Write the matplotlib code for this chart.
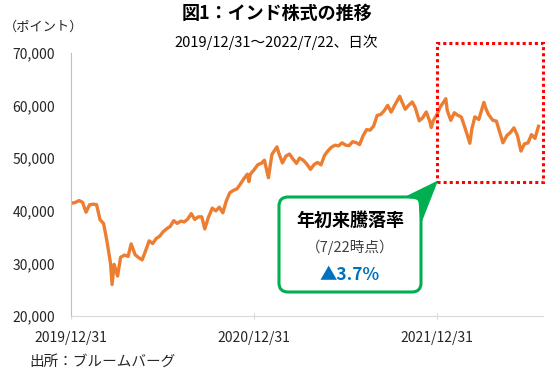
import matplotlib
matplotlib.use('Agg')
import matplotlib.pyplot as plt
import matplotlib.dates as mdates
import matplotlib.transforms as mtransforms
from matplotlib.patches import FancyBboxPatch, Polygon, Rectangle
from matplotlib.ticker import FuncFormatter
import pandas as pd

plt.rcParams['font.family'] = ['Noto Sans CJK JP', 'DejaVu Sans']

## weekly-ish closes (points)
dates = [
    '2019-12-31', '2020-01-03', '2020-01-10', '2020-01-17', '2020-01-24', '2020-01-31',
    '2020-02-07', '2020-02-14', '2020-02-21', '2020-02-28', '2020-03-06', '2020-03-13',
    '2020-03-20', '2020-03-23', '2020-03-27', '2020-04-03', '2020-04-09', '2020-04-17',
    '2020-04-24', '2020-04-30', '2020-05-08', '2020-05-15', '2020-05-22', '2020-05-29',
    '2020-06-05', '2020-06-12', '2020-06-19', '2020-06-26', '2020-07-03', '2020-07-10',
    '2020-07-17', '2020-07-24', '2020-07-31', '2020-08-07', '2020-08-14', '2020-08-21',
    '2020-08-28', '2020-09-04', '2020-09-11', '2020-09-18', '2020-09-24', '2020-10-01',
    '2020-10-09', '2020-10-16', '2020-10-23', '2020-10-30', '2020-11-06', '2020-11-13',
    '2020-11-20', '2020-11-27', '2020-12-04', '2020-12-11', '2020-12-18', '2020-12-21',
    '2020-12-24', '2020-12-31',
    '2021-01-08', '2021-01-15', '2021-01-21', '2021-01-29', '2021-02-05', '2021-02-15',
    '2021-02-19', '2021-02-26', '2021-03-05', '2021-03-12', '2021-03-19', '2021-03-26',
    '2021-04-01', '2021-04-09', '2021-04-16', '2021-04-23', '2021-04-30', '2021-05-07',
    '2021-05-14', '2021-05-21', '2021-05-28', '2021-06-04', '2021-06-11', '2021-06-18',
    '2021-06-25', '2021-07-02', '2021-07-09', '2021-07-16', '2021-07-23', '2021-07-30',
    '2021-08-06', '2021-08-13', '2021-08-20', '2021-08-27', '2021-09-03', '2021-09-10',
    '2021-09-17', '2021-09-24', '2021-10-01', '2021-10-08', '2021-10-18', '2021-10-22',
    '2021-10-29', '2021-11-05', '2021-11-12', '2021-11-18', '2021-11-26', '2021-12-03',
    '2021-12-10', '2021-12-17', '2021-12-20', '2021-12-24', '2021-12-31',
    '2022-01-07', '2022-01-18', '2022-01-21', '2022-01-28', '2022-02-04', '2022-02-11',
    '2022-02-18', '2022-02-25', '2022-03-07', '2022-03-11', '2022-03-17', '2022-03-25',
    '2022-04-04', '2022-04-08', '2022-04-13', '2022-04-22', '2022-04-29', '2022-05-06',
    '2022-05-12', '2022-05-20', '2022-05-27', '2022-06-03', '2022-06-10', '2022-06-17',
    '2022-06-24', '2022-07-01', '2022-07-08', '2022-07-15', '2022-07-22',
]
values = [
    41254, 41464, 41600, 41945, 41613, 39736,
    41141, 41257, 41170, 38297, 37577, 34103,
    29916, 25981, 29816, 27591, 31160, 31589,
    31327, 33718, 31643, 31098, 30672, 32424,
    34287, 33781, 34731, 35171, 36021, 36594,
    37020, 38129, 37607, 38040, 37877, 38434,
    39467, 38357, 38855, 38845, 36553, 38697,
    40509, 39983, 40686, 39614, 41893, 43443,
    43882, 44150, 45080, 46099, 46961, 45554,
    46974, 47751,
    48782, 49035, 49625, 46286, 50732, 52154,
    50890, 49100, 50405, 50792, 49858, 49008,
    50030, 49591, 48832, 47878, 48782, 49206,
    48732, 50540, 51423, 52100, 52474, 52344,
    52925, 52485, 52386, 53140, 52976, 52587,
    54278, 55437, 55329, 56124, 58130, 58305,
    59015, 60048, 58765, 60059, 61766, 60821,
    59307, 60067, 60687, 59636, 57107, 57696,
    58787, 57011, 55822, 57124, 58254,
    59745, 61309, 59037, 57200, 58645, 58153,
    57833, 55858, 52843, 55550, 57864, 57362,
    60611, 59447, 58339, 57197, 57061, 54836,
    52930, 54326, 54885, 55769, 54303, 51360,
    52728, 52908, 54482, 53760, 56072,
]

xtick_dates = ['2019-12-31', '2020-12-31', '2021-12-31']
xtick_labels = ['2019/12/31', '2020/12/31', '2021/12/31']
yticks = [20000, 30000, 40000, 50000, 60000, 70000]

title = '図1：インド株式の推移'
subtitle = '2019/12/31～2022/7/22、日次'
unit = '（ポイント）'
source = '出所：ブルームバーグ'
box_lines = ['年初来騰落率', '（7/22時点）', '▲3.7%']
highlight_start = '2021-12-31'
highlight_floor = 45500

W, H = 556, 377
fig = plt.figure(figsize=(W / 100, H / 100), dpi=100)
ax = fig.add_axes([70.5 / W, 1 - 316 / H, (543 - 70.5) / W, (316 - 53) / H])

x = pd.to_datetime(dates)
ax.plot(x, values, color='#ED7D31', lw=2.4, solid_joinstyle='round')

ax.set_ylim(20000, 70000)
ax.set_xlim(pd.Timestamp('2019-12-31'), pd.Timestamp('2022-07-31'))
ax.set_yticks(yticks)
ax.yaxis.set_major_formatter(FuncFormatter(lambda v, p: '{:,.0f}'.format(v)))
ax.set_xticks(pd.to_datetime(xtick_dates))
ax.set_xticklabels(xtick_labels)

for s in ['top', 'right']:
    ax.spines[s].set_visible(False)
ax.spines['left'].set_color('#BFBFBF')
ax.spines['bottom'].set_color('#D9D9D9')
ax.tick_params(axis='y', length=0, pad=11, labelsize=10, labelcolor='#262626')
ax.tick_params(axis='x', direction='inout', length=5, color='#D9D9D9',
               pad=8, labelsize=10, labelcolor='#262626')

## pixel transform (origin top-left)
tpix = mtransforms.Affine2D().scale(1, -1).translate(0, H)

fig.text(277, 13, title, transform=tpix, ha='center', va='center',
         fontsize=13, fontweight='bold')
fig.text(276, 42, subtitle, transform=tpix, ha='center', va='center', fontsize=10.5)
fig.text(4, 27, unit, transform=tpix, ha='left', va='center', fontsize=9.5,
         color='#262626')
fig.text(29, 362, source, transform=tpix, ha='left', va='center', fontsize=10.5,
         color='#262626')

## red dotted highlight
x0 = mdates.date2num(pd.Timestamp(highlight_start))
x1 = ax.get_xlim()[1]
ytop = ax.transData.inverted().transform(tpix.transform((0, 43)))[1]
rect = Rectangle((x0, highlight_floor), x1 - x0, ytop - highlight_floor,
                 fill=False, edgecolor='#FF0000', lw=2.2, linestyle=(0, (1, 1)),
                 clip_on=False, zorder=5)
ax.add_patch(rect)

## green callout
tip = tpix.inverted().transform(ax.transData.transform((x0, highlight_floor)))
bx0, by0, bx1, by1 = 279, 197, 421, 292
box = FancyBboxPatch((bx0, by0), bx1 - bx0, by1 - by0,
                     boxstyle='round,pad=0,rounding_size=9',
                     transform=tpix, facecolor='white', edgecolor='#00B050', lw=2.2)
fig.add_artist(box)
tail = Polygon([(406, by0), (tip[0], tip[1]), (bx1, 222), (bx1 - 2, by0 + 2)],
               closed=True, transform=tpix, facecolor='#00B050', edgecolor='#00B050', lw=1)
fig.add_artist(tail)

cx = (bx0 + bx1) / 2
fig.text(cx, 220, box_lines[0], transform=tpix, ha='center', va='center',
         fontsize=13, fontweight='bold', color='black')
fig.text(cx, 247, box_lines[1], transform=tpix, ha='center', va='center',
         fontsize=10.5, color='#404040')
fig.text(cx, 275, box_lines[2], transform=tpix, ha='center', va='center',
         fontsize=12.5, fontweight='bold', color='#0070C0')

fig.savefig('out.png', dpi=100)
